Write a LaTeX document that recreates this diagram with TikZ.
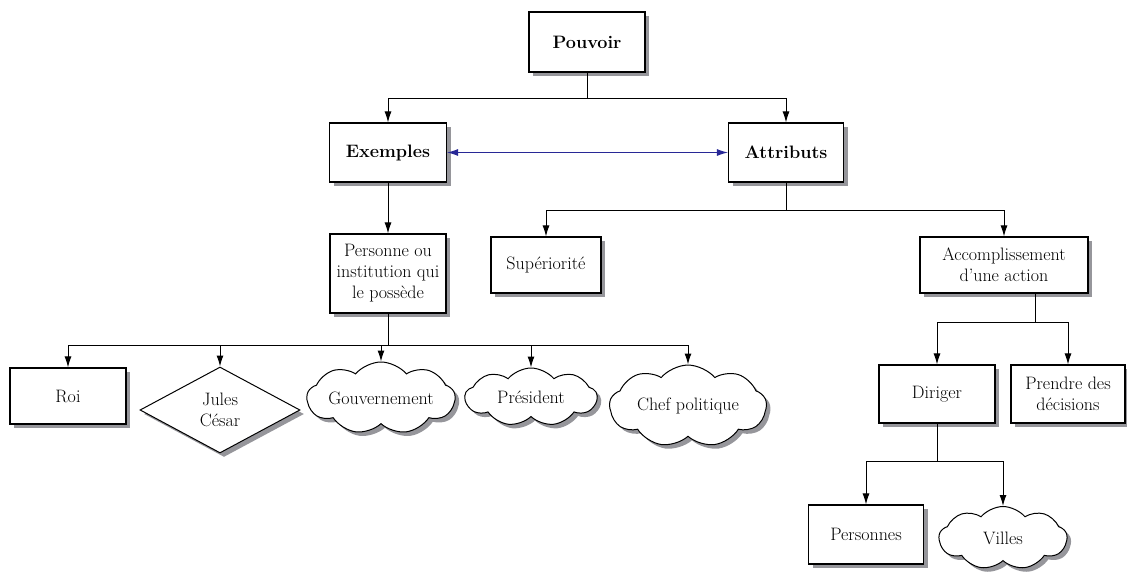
\documentclass[tikz,border=0pt]{standalone}
\usepackage{tikz}
\usetikzlibrary{arrows.meta,positioning,shapes.geometric,shapes.symbols,shadows}
\definecolor{ombre}{RGB}{150,150,155}
\definecolor{bleu}{RGB}{40,40,150}

\begin{document}
\begin{tikzpicture}[
      x=1pt,y=-1pt,
      font=\fontsize{18}{21}\selectfont,
      ombrage/.style={drop shadow={shadow xshift=4pt,shadow yshift=-4pt,fill=ombre,opacity=1}},
      box/.style={draw,line width=1.1pt,fill=white,ombrage,align=center,inner sep=2pt},
      titre/.style={box,font=\fontsize{18}{21}\selectfont\bfseries},
      nuage/.style={cloud,cloud puffs=9,cloud puff arc=100,draw,line width=1pt,fill=white,ombrage,inner sep=0pt,align=center},
      losange/.style={diamond,draw,line width=1pt,fill=white,ombrage,inner sep=0pt,align=center},
      lien/.style={line width=1pt},
      flow/.style={-{Latex[length=11pt,width=7pt]},line width=1pt},
      duo/.style={{Latex[length=11pt,width=7pt]}-{Latex[length=11pt,width=7pt]},line width=1pt,draw=bleu,fill=bleu}
    ]
      \useasboundingbox (0,0) rectangle (1127,571);
      % niveau 1
      \node[titre,minimum width=116pt,minimum height=60pt] (pouvoir) at (587,42) {Pouvoir};
      % niveau 2
      \node[titre,minimum width=117pt,minimum height=59pt] (exemples) at (388,152.5) {Exemples};
      \node[titre,minimum width=115pt,minimum height=59pt] (attributs) at (786,152.5) {Attributs};
      % niveau 3
      \node[box,minimum width=116pt,minimum height=79pt] (personne) at (388,273.5) {Personne ou\\institution qui\\le possède};
      \node[box,minimum width=110pt,minimum height=56pt] (superiorite) at (546,265) {Supériorité};
      \node[box,minimum width=168pt,minimum height=56pt] (accomplissement) at (1004,265) {Accomplissement\\d’une action};
      % exemples
      \node[box,minimum width=116pt,minimum height=56pt] (roi) at (68,396) {Roi};
      \node[losange,minimum width=160pt,minimum height=86pt,aspect=1.86] (jules) at (220,410) {Jules\\César};
      \node[nuage,minimum width=142pt,minimum height=60pt,aspect=2.9] (gouvernement) at (381,398) {Gouvernement};
      \node[nuage,minimum width=132pt,minimum height=58pt,aspect=2.3] (president) at (531,397) {Président};
      \node[nuage,minimum width=157pt,minimum height=77pt,aspect=2.3] (chef) at (688,406) {Chef politique};
      % action
      \node[box,minimum width=116pt,minimum height=58pt] (diriger) at (937,394) {Diriger};
      \node[box,minimum width=114pt,minimum height=58pt] (prendre) at (1068,394) {Prendre des\\décisions};
      \node[box,minimum width=115pt,minimum height=59pt] (personnes) at (866,534.5) {Personnes};
      \node[nuage,minimum width=128pt,minimum height=63pt,aspect=2.05] (villes) at (1003,538) {Villes};
      % liens
      \coordinate (j0) at (587,98);
      \draw[lien] (pouvoir) -- (j0);
      \draw[flow] (j0) -| (exemples);
      \draw[flow] (j0) -| (attributs);
      \draw[duo] (exemples) -- (attributs);
      \draw[flow] (exemples) -- (personne);
      \coordinate (j1) at (786,210);
      \draw[lien] (attributs) -- (j1);
      \draw[flow] (j1) -| (superiorite);
      \draw[flow] (j1) -| (accomplissement);
      \coordinate (j2) at (388,345);
      \draw[lien] (personne) -- (j2);
      \foreach \n in {roi,jules,gouvernement,president,chef}
        \draw[flow] (j2) -| (\n);
      \coordinate (j3) at (1035,322);
      \draw[lien] (accomplissement.south -| j3) -- (j3);
      \draw[flow] (j3) -| (diriger);
      \draw[flow] (j3) -| (prendre);
      \coordinate (j4) at (937,461);
      \draw[lien] (diriger) -- (j4);
      \draw[flow] (j4) -| (personnes);
      \draw[flow] (j4) -| (villes);
    \end{tikzpicture}
\end{document}
